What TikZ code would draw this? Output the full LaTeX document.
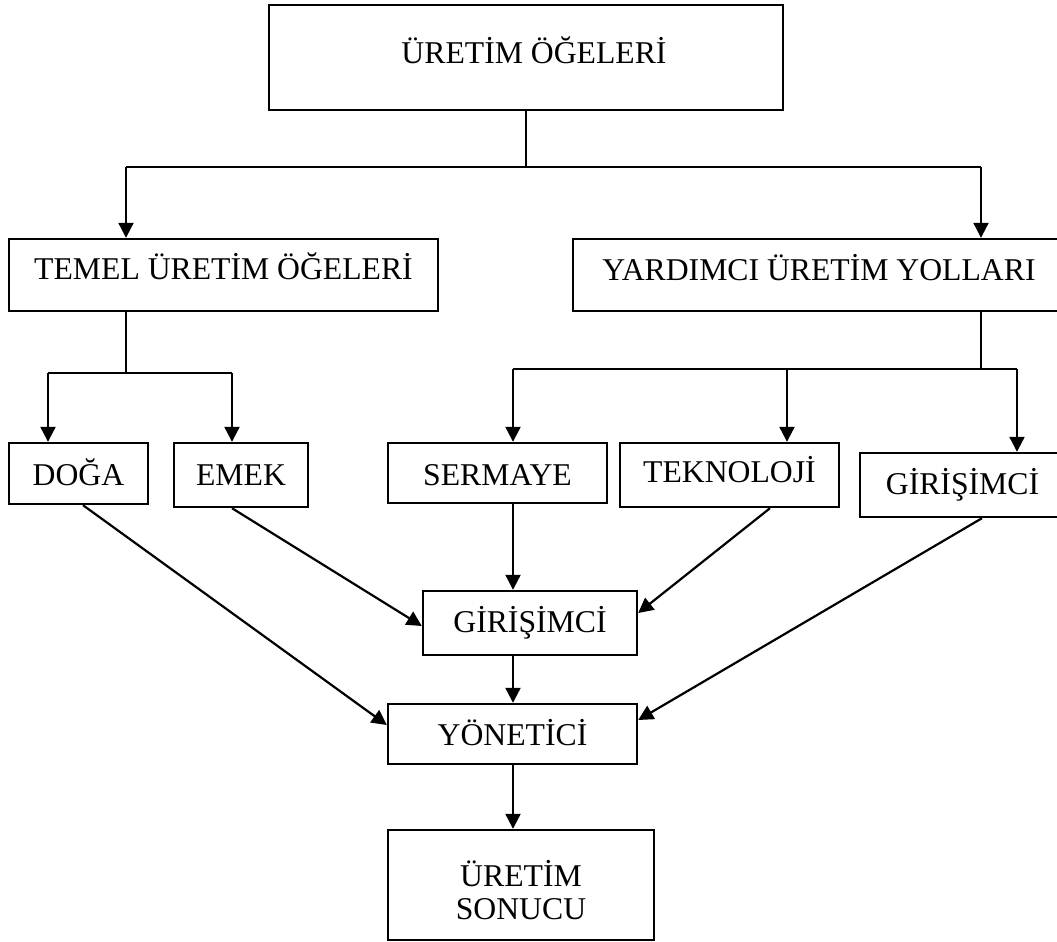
\documentclass[tikz,border=0pt]{standalone}
\usepackage{fontspec}
\setmainfont{Liberation Serif}
\usetikzlibrary{arrows.meta}
\begin{document}
\begin{tikzpicture}[x=0.5pt,y=-0.5pt,
  bx/.style n args={3}{draw, line width=1.2pt, inner sep=0pt,
    minimum width=#1*0.5pt, minimum height=#2*0.5pt,
    text height=#3*1pt, text depth=0pt,
    font=\fontsize{15.85}{16.5}\selectfont},
  stem/.style={line width=0.8pt},
  link/.style={line width=1.1pt},
  arr/.style={line width=1.1pt, -{Triangle[length=7.5pt,width=7.5pt]}}]
\useasboundingbox (0,0) rectangle (1057,942);

% boxes
\node[bx={514}{105}{5.5}] (top)   at (526,57.5) {\hspace*{8pt}ÜRETİM ÖĞELERİ};
\node[bx={429}{72}{4}]    (temel) at (223.5,275) {TEMEL ÜRETİM ÖĞELERİ};
\node[bx={492}{72}{5}]    (yard)  at (819,275) {YARDIMCI ÜRETİM YOLLARI};
\node[bx={139}{61}{11.5}] (doga)  at (78.5,473.5) {DOĞA};
\node[bx={134}{64}{10}]   (emek)  at (241,475) {EMEK};
\node[bx={219}{60}{12}]   (serm)  at (497.5,473) {SERMAYE};
\node[bx={219}{64}{7.5}]  (tekn)  at (729.5,475) {TEKNOLOJİ};
\node[bx={205}{64}{9}]    (gr)    at (962.5,485) {GİRİŞİMCİ};
\node[bx={214}{64}{9}]    (gm)    at (530,623) {GİRİŞİMCİ};
\node[bx={249}{60}{11}]   (yon)   at (512.5,734) {YÖNETİCİ};
\node[bx={266}{110}{1}]   (res)   at (521,885)
      {\begin{tabular}[t]{@{}c@{}}ÜRETİM\\SONUCU\end{tabular}};

% first split
\coordinate (j0) at (526,167);
\coordinate (jl) at (126,167);
\coordinate (jr) at (981,167);
\draw[stem] (top) -- (j0);
\draw[link] (jl) -- (jr);
\draw[arr] (jl) -- (jl |- temel.north);
\draw[arr] (jr) -- (jr |- yard.north);

% basic factors
\coordinate (k0) at (126,373);
\coordinate (kl) at (48,373);
\coordinate (kr) at (232,373);
\draw[stem] (temel.south -| k0) -- (k0);
\draw[link] (kl) -- (kr);
\draw[arr] (kl) -- (kl |- doga.north);
\draw[arr] (kr) -- (kr |- emek.north);

% auxiliary factors
\coordinate (m0) at (981,369);
\coordinate (ml) at (513,369);
\coordinate (mm) at (787,369);
\coordinate (mr) at (1017,369);
\draw[stem] (yard.south -| m0) -- (m0);
\draw[link] (ml) -- (mr);
\draw[arr] (ml) -- (ml |- serm.north);
\draw[arr] (mm) -- (mm |- tekn.north);
\draw[arr] (mr) -- (mr |- gr.north);

% flows into entrepreneur and manager
\draw[arr] (serm.south -| ml) -- (gm.north -| ml);
\draw[arr] (doga.south -| 83,0) -- (yon.west |- 0,725);
\draw[arr] (emek.south -| 232,0) -- (gm.west |- 0,626);
\draw[arr] (tekn.south -| 770,0) -- (gm.east |- 0,613);
\draw[arr] (gr.south -| 982,0) -- (yon.east |- 0,720);
\draw[arr] (gm.south -| ml) -- (yon.north -| ml);
\draw[arr] (yon.south -| ml) -- (res.north -| ml);
\end{tikzpicture}
\end{document}
